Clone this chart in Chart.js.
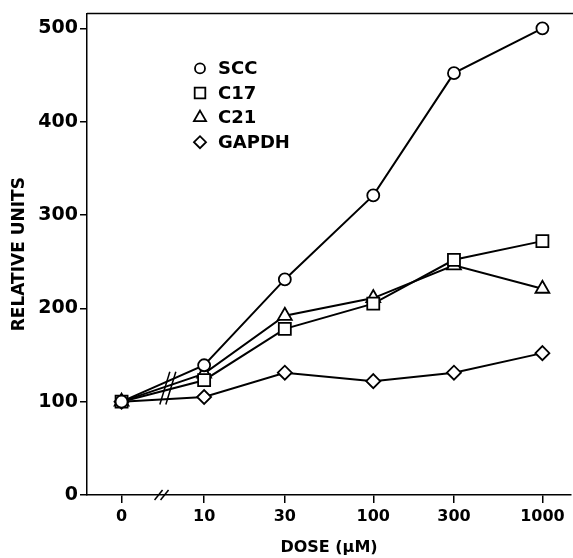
<!DOCTYPE html>
<html>
<head>
<meta charset="utf-8">
<script src="https://cdn.jsdelivr.net/npm/chart.js@4.4.1/dist/chart.umd.min.js"></script>
<style>
  body { margin: 0; background: #fff; }
  #wrap { width: 573px; height: 558px; }
</style>
</head>
<body>
<div id="wrap"><canvas id="doseChart" width="573" height="558"></canvas></div>
<script>
// DATA
const doseLabels = ['0', '10', '30', '100', '300', '1000'];
// where each dose sits on the log axis (the 0 dose sits left of the axis break)
const doseAxisValues = [3.25, 10, 30, 100, 300, 1000];
const yTicks = [0, 100, 200, 300, 400, 500];

const seriesNames = ['SCC', 'C17', 'C21', 'GAPDH'];
const sccValues = [100, 139, 231, 321, 452, 500];
const c17Values = [100, 123, 178, 205, 252, 272];
const c21Values = [100, 130, 192, 211, 246, 221];
const gapdhValues = [100, 105, 131, 122, 131, 152];

const markers = ['circle', 'rect', 'triangle', 'rectRot'];
const markerSizes = [6, 8.5, 8, 7];

const FONT = '"DejaVu Sans", "Liberation Sans", sans-serif';

function toPoints(values) {
    return values.map((v, i) => ({ x: doseAxisValues[i], y: v }));
}

const allSeries = [sccValues, c17Values, c21Values, gapdhValues];

const datasets = allSeries.map((vals, i) => ({
    label: seriesNames[i],
    data: toPoints(vals),
    borderColor: '#000',
    borderWidth: 2,
    pointStyle: markers[i],
    pointRadius: markerSizes[i],
    pointHoverRadius: markerSizes[i],
    pointBackgroundColor: '#fff',
    pointBorderColor: '#000',
    pointBorderWidth: 1.8,
    tension: 0,
    fill: false
}));

// frame top line, axis break marks and the legend inside the plot
const extrasPlugin = {
    id: 'extras',
    afterDatasetsDraw(chart) {
        const ctx = chart.ctx;
        const area = chart.chartArea;
        const xs = chart.scales.x;
        const ys = chart.scales.y;
        ctx.save();
        ctx.strokeStyle = '#000';
        ctx.lineWidth = 1.5;

        // top border
        ctx.beginPath();
        ctx.moveTo(area.left, area.top);
        ctx.lineTo(chart.width, area.top);
        ctx.stroke();

        // break on x axis
        const bx = xs.getPixelForValue(5.6);
        const by = area.bottom;
        [-3, 3].forEach(d => {
            ctx.beginPath();
            ctx.moveTo(bx + d - 4, by + 5);
            ctx.lineTo(bx + d + 4, by - 5);
            ctx.stroke();
        });

        // break on the data lines
        const lx = xs.getPixelForValue(6.1);
        const yLow = ys.getPixelForValue(97);
        const yHigh = ys.getPixelForValue(132);
        [-3, 3].forEach(d => {
            ctx.beginPath();
            ctx.moveTo(lx + d - 5, yLow);
            ctx.lineTo(lx + d + 5, yHigh);
            ctx.stroke();
        });

        // legend
        const mx = area.left + 113;
        const tx = area.left + 131;
        let ly = area.top + 55;
        ctx.font = 'bold 18px ' + FONT;
        ctx.textBaseline = 'middle';
        chart.data.datasets.forEach((ds) => {
            ctx.lineWidth = 1.8;
            ctx.fillStyle = '#fff';
            Chart.helpers.drawPoint(ctx, {
                pointStyle: ds.pointStyle,
                radius: ds.pointRadius - 1,
                borderWidth: 1.8
            }, mx, ly);
            ctx.fillStyle = '#000';
            ctx.fillText(ds.label, tx, ly + 1);
            ly += 24.6;
        });
        ctx.restore();
    }
};

new Chart(document.getElementById('doseChart'), {
    type: 'line',
    data: { datasets: datasets },
    plugins: [extrasPlugin],
    options: {
        responsive: false,
        animation: false,
        layout: { autoPadding: false, padding: { top: 12, right: 2, left: 0, bottom: 0 } },
        plugins: {
            legend: { display: false },
            tooltip: { enabled: false }
        },
        scales: {
            x: {
                type: 'logarithmic',
                min: 2.03,
                max: 1476,
                afterBuildTicks: (scale) => {
                    scale.ticks = doseAxisValues.map(v => ({ value: v }));
                },
                afterFit: (scale) => {
                    scale.height = 63;
                    scale.paddingLeft = 0;
                    scale.paddingRight = 0;
                },
                ticks: {
                    autoSkip: false,
                    maxRotation: 0,
                    padding: 4,
                    color: '#000',
                    font: { family: FONT, size: 16, weight: 'bold' },
                    callback: (value, index) => doseLabels[index]
                },
                grid: {
                    drawOnChartArea: false,
                    color: '#000',
                    lineWidth: 1.5,
                    tickLength: 8
                },
                border: { color: '#000', width: 1.5 },
                title: {
                    display: true,
                    text: 'DOSE (µM)',
                    color: '#000',
                    font: { family: FONT, size: 16, weight: 'bold' },
                    padding: { top: 0, bottom: 1 }
                }
            },
            y: {
                min: 0,
                max: 516,
                afterBuildTicks: (scale) => {
                    scale.ticks = yTicks.map(v => ({ value: v }));
                },
                afterFit: (scale) => { scale.width = 87; },
                ticks: {
                    padding: 2,
                    color: '#000',
                    font: { family: FONT, size: 19, weight: 'bold' }
                },
                grid: {
                    drawOnChartArea: false,
                    color: '#000',
                    lineWidth: 1.5,
                    tickLength: 7
                },
                border: { color: '#000', width: 1.5 },
                title: {
                    display: true,
                    text: 'RELATIVE UNITS',
                    color: '#000',
                    font: { family: FONT, size: 17, weight: 'bold' },
                    padding: { top: 9, bottom: 0 }
                }
            }
        }
    }
});
</script>
</body>
</html>
